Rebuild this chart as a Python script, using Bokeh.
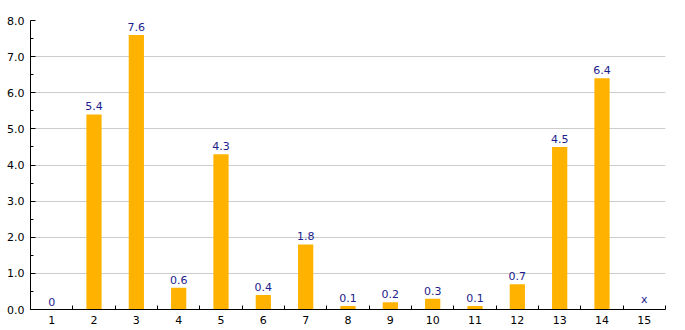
import math
from bokeh.plotting import figure
from bokeh.models import ColumnDataSource, FixedTicker, NumeralTickFormatter, Range1d
from bokeh.core.properties import value
from bokeh.embed import file_html
from bokeh.resources import INLINE

categories = [1, 2, 3, 4, 5, 6, 7, 8, 9, 10, 11, 12, 13, 14, 15]
values = [0, 5.4, 7.6, 0.6, 4.3, 0.4, 1.8, 0.1, 0.2, 0.3, 0.1, 0.7, 4.5, 6.4, None]
y_ticks = [0, 1, 2, 3, 4, 5, 6, 7, 8]

tops = [float("nan") if v is None else v for v in values]
label_y = [0 if v is None else v for v in values]
labels = ["x" if v is None else ("0" if v == 0 else f"{v:g}") for v in values]

src = ColumnDataSource(dict(x=categories, top=tops, ly=label_y, lab=labels))

p = figure(width=685, height=330, output_backend="svg", toolbar_location=None,
           x_range=Range1d(0.5, 15.5), y_range=Range1d(0, 8),
           min_border_left=30, min_border_right=20, min_border_top=20, min_border_bottom=21)
p.outline_line_color = None
p.background_fill_color = "white"
p.border_fill_color = "white"

p.vbar(x="x", top="top", width=0.36, bottom=0, source=src, color="#FFB300", line_color=None)
p.text(x="x", y="ly", text="lab", source=src, text_align="center", text_baseline="bottom",
       y_offset=-4, text_font=value("DejaVu Sans"), text_font_size="11px", text_color="#1c1c8c")

xa = p.xaxis[0]
xa.ticker = FixedTicker(ticks=categories, minor_ticks=[c - 0.5 for c in categories] + [categories[-1] + 0.5])
xa.major_tick_line_color = None
xa.minor_tick_in = 4
xa.minor_tick_out = 0
xa.minor_tick_line_color = "black"
xa.axis_line_color = "black"
xa.major_label_text_font = "DejaVu Sans"
xa.major_label_text_font_size = "11px"
xa.major_label_text_color = "black"
xa.major_label_standoff = 0

ya = p.yaxis[0]
ya.ticker = FixedTicker(ticks=y_ticks, minor_ticks=[t + 0.5 for t in y_ticks[:-1]])
ya.formatter = NumeralTickFormatter(format="0.0")
ya.major_tick_in = 5
ya.major_tick_out = 0
ya.minor_tick_in = 3
ya.minor_tick_out = 0
ya.axis_line_color = "black"
ya.major_label_text_font = "DejaVu Sans"
ya.major_label_text_font_size = "11px"
ya.major_label_text_color = "black"
ya.major_label_standoff = 6

p.xgrid.grid_line_color = None
p.ygrid.grid_line_color = "#cccccc"
p.ygrid.ticker = FixedTicker(ticks=y_ticks[1:])

open("out.html", "w").write(file_html(p, INLINE))
